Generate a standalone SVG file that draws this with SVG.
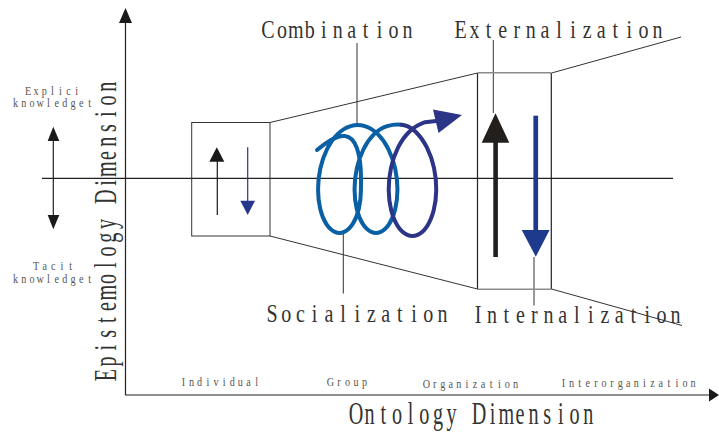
<svg xmlns="http://www.w3.org/2000/svg" width="719" height="432" viewBox="0 0 719 432">
<style>
.ln{stroke:#222;stroke-width:1.2;fill:none}
.thin{stroke:#333;stroke-width:1;fill:none}
.gray{stroke:#8c8c8c;stroke-width:1.6;fill:none}
text{font-family:"Liberation Serif","DejaVu Serif",serif;text-anchor:middle}
.big{font-size:25px;fill:#333}
.axt{font-size:31px;fill:#333}
.sm{font-size:13.5px;fill:#555}
.blue{stroke:#0a60a4;stroke-width:4;fill:none;stroke-linejoin:round;stroke-linecap:round}
.navy{stroke:#2c3488;stroke-width:4;fill:none;stroke-linejoin:round;stroke-linecap:round}
</style>
<rect width="719" height="432" fill="#fff"/>
<g id="axes">
<line class="ln" x1="125.5" y1="22" x2="125.5" y2="395"/>
<polygon points="125.5,8 119,23 132,23" fill="#1a1a1a"/>
<line class="ln" x1="125" y1="395" x2="710" y2="395"/>
<polygon points="719,395 709,388.5 709,401.5" fill="#1a1a1a"/>
<line class="ln" x1="42" y1="178.3" x2="673" y2="178.3"/>
<text class="axt" transform="translate(356,424) scale(0.65,1)" x="0 21.02 42.03 63.05 84.06 105.08 126.09 147.11 168.12 189.14 210.15 231.17 252.18 273.2 294.21 315.23 336.24 357.26" y="0">Ontology Dimension</text>
<text class="axt" transform="translate(115.5,375.1) rotate(-90) scale(0.65,1)" x="0 21.12 42.25 63.37 84.49 105.62 126.74 147.86 168.98 190.11 211.23 232.35 253.48 274.6 295.72 316.85 337.97 359.09 380.21 401.34 422.46 443.58" y="0">Epistemology Dimension</text>
</g>
<g id="knowledge-scale">
<line class="ln" x1="53.3" y1="140" x2="53.3" y2="216"/>
<polygon points="53.3,126.7 47.7,141 59.3,141" fill="#1a1a1a"/>
<polygon points="53.3,229.3 47.7,215 59.3,215" fill="#1a1a1a"/>
<text class="sm" transform="translate(28,94.5) scale(0.75,1)" x="0 10.8 21.6 32.4 43.2 54 64.8" y="0">Explici</text>
<text class="sm" transform="translate(15.5,107) scale(0.75,1)" x="0 10.97 21.95 32.92 43.89 54.87 65.84 76.81 87.79 98.76" y="0">knowledget</text>
<text class="sm" transform="translate(36,269.5) scale(0.75,1)" x="0 11.53 23.07 34.6 46.13" y="0">Tacit</text>
<text class="sm" transform="translate(15.5,283) scale(0.75,1)" x="0 10.97 21.95 32.92 43.89 54.87 65.84 76.81 87.79 98.76" y="0">knowledget</text>
</g>
<g id="ontology-levels">
<text class="sm" transform="translate(183.4,385.7) scale(0.75,1)" x="0 10.84 21.68 32.52 43.36 54.2 65.04 75.88 86.72 97.56" y="0">Individual</text>
<text class="sm" transform="translate(330.5,386) scale(0.75,1)" x="0 11.33 22.67 34 45.33" y="0">Group</text>
<text class="sm" transform="translate(426.5,388) scale(0.75,1)" x="0 10.79 21.57 32.36 43.15 53.93 64.72 75.51 86.29 97.08 107.87 118.65" y="0">Organization</text>
<text class="sm" transform="translate(563.4,387.3) scale(0.75,1)" x="0 10.81 21.63 32.44 43.25 54.07 64.88 75.69 86.51 97.32 108.13 118.95 129.76 140.57 151.39 162.2 173.01" y="0">Interorganization</text>
</g>
<g id="connectors">
<line class="thin" x1="270" y1="122.5" x2="477.5" y2="73"/>
<line class="thin" x1="270" y1="236" x2="477.5" y2="289"/>
<line class="thin" x1="551.5" y1="73" x2="681" y2="37"/>
<line class="thin" x1="551.5" y1="289" x2="682" y2="325.5"/>
<line class="thin" x1="357" y1="43" x2="357" y2="125"/>
<line class="thin" x1="493.3" y1="40" x2="493.3" y2="113"/>
<line class="thin" x1="343.3" y1="232" x2="343.3" y2="293.5"/>
<line class="thin" x1="534" y1="257" x2="534" y2="305.5"/>
</g>
<g id="individual-box">
<rect class="thin" x="191.7" y="122.5" width="78.3" height="113.5"/>
<line x1="217.3" y1="160" x2="217.3" y2="215" stroke="#1a1a1a" stroke-width="1.2"/>
<polygon points="216.8,147.3 209.3,161.7 224.3,161.7" fill="#1a1a1a"/>
<line x1="247.7" y1="147.3" x2="247.7" y2="202" stroke="#27358c" stroke-width="1.2"/>
<polygon points="247.7,215 240.3,200.7 255,200.7" fill="#27358c"/>
</g>
<g id="spiral">
<path class="blue" d="M317,150 C328,141 337,135 345,136 C355,137 361,152 361,179 L360.95,189.55 Q360.9,200.1 358.75,209 Q356.6,217.9 352.75,223.85 Q348.9,229.8 344.2,231.9 Q339.5,234 334.8,231.9 Q330.1,229.8 326.25,223.85 Q322.4,217.9 320.25,209 Q318.1,200.1 318.05,189.55 Q318,179 320.3,168.5 Q322.6,158 327.05,149.05 Q331.5,140.1 337.6,134.15 Q343.7,128.2 350.7,126.1 Q357.7,124 364.7,126.1 Q371.7,128.2 377.8,134.15 Q383.9,140.1 388.35,149.05 Q392.8,158 395.15,168.5 Q397.5,179 397.45,189.55 Q397.4,200.1 395.25,209 Q393.1,217.9 389.25,223.85 Q385.4,229.8 380.7,231.9 Q376,234 371.3,231.9 Q366.6,229.8 362.75,223.85 Q358.9,217.9 356.75,209 Q354.6,200.1 354.55,189.55 Q354.5,179 356.8,168.5 Q359.1,158 363.55,149.05 Q368,140.1 374.1,134.15 Q380.2,128.2 387.2,126.1 Q394.2,124 401.65,124.7"/>
<path class="navy" d="M401.65,124.7 Q409.1,125.4 415.6,131.7 Q422.1,138 426.85,147.4 Q431.6,156.8 434,167.9 Q436.4,179 436.25,190.1 Q436.1,201.2 433.65,210.6 Q431.2,220 427,226.3 Q422.8,232.6 417.65,234.8 Q412.5,237 407.3,234.8 Q402.1,232.6 397.9,226.3 Q393.7,220 391.25,210.6 Q388.8,201.2 388.7,190.1 Q388.6,179 391,167.9 Q393.4,156.8 398.1,147.4 Q402.8,138 409.3,131.7 Q415.8,125.4 425,122.2 L436,121"/>
<polygon points="462,115 433,109.5 438.5,133" fill="#2c3488"/>
</g>
<g id="organization-box">
<line class="ln" x1="477.5" y1="73" x2="477.5" y2="289.3"/>
<line class="ln" x1="551.3" y1="73" x2="551.3" y2="289.3"/>
<line class="gray" x1="477.5" y1="72.8" x2="551.3" y2="72.8"/>
<line class="gray" x1="477.5" y1="289.3" x2="551.3" y2="289.3"/>
<rect x="493.3" y="140" width="4.6" height="117" fill="#231f1c"/>
<polygon points="495.5,113.3 481.7,142.7 509.3,142.7" fill="#231f1c"/>
<rect x="533.4" y="115.7" width="4.7" height="116" fill="#1d3a8c"/>
<polygon points="535.8,256.7 521.7,230 549.6,230" fill="#1d3a8c"/>
</g>
<g id="labels">
<text class="big" transform="translate(268,38.3) scale(0.8,1)" x="0 17.44 34.88 52.31 69.75 87.19 104.63 122.06 139.5 156.94 174.38" y="0">Combination</text>
<text class="big" transform="translate(460.5,38.3) scale(0.8,1)" x="0 17.59 35.18 52.76 70.35 87.94 105.53 123.11 140.7 158.29 175.88 193.46 211.05 228.64 246.23" y="0">Externalization</text>
<text class="big" transform="translate(272,322.3) scale(0.8,1)" x="0 17.76 35.53 53.29 71.05 88.81 106.58 124.34 142.1 159.86 177.63 195.39 213.15" y="0">Socialization</text>
<text class="big" transform="translate(478,323.3) scale(0.8,1)" x="0 17.64 35.28 52.91 70.55 88.19 105.83 123.46 141.1 158.74 176.38 194.01 211.65 229.29 246.93" y="0">Internalization</text>
</g>
</svg>
